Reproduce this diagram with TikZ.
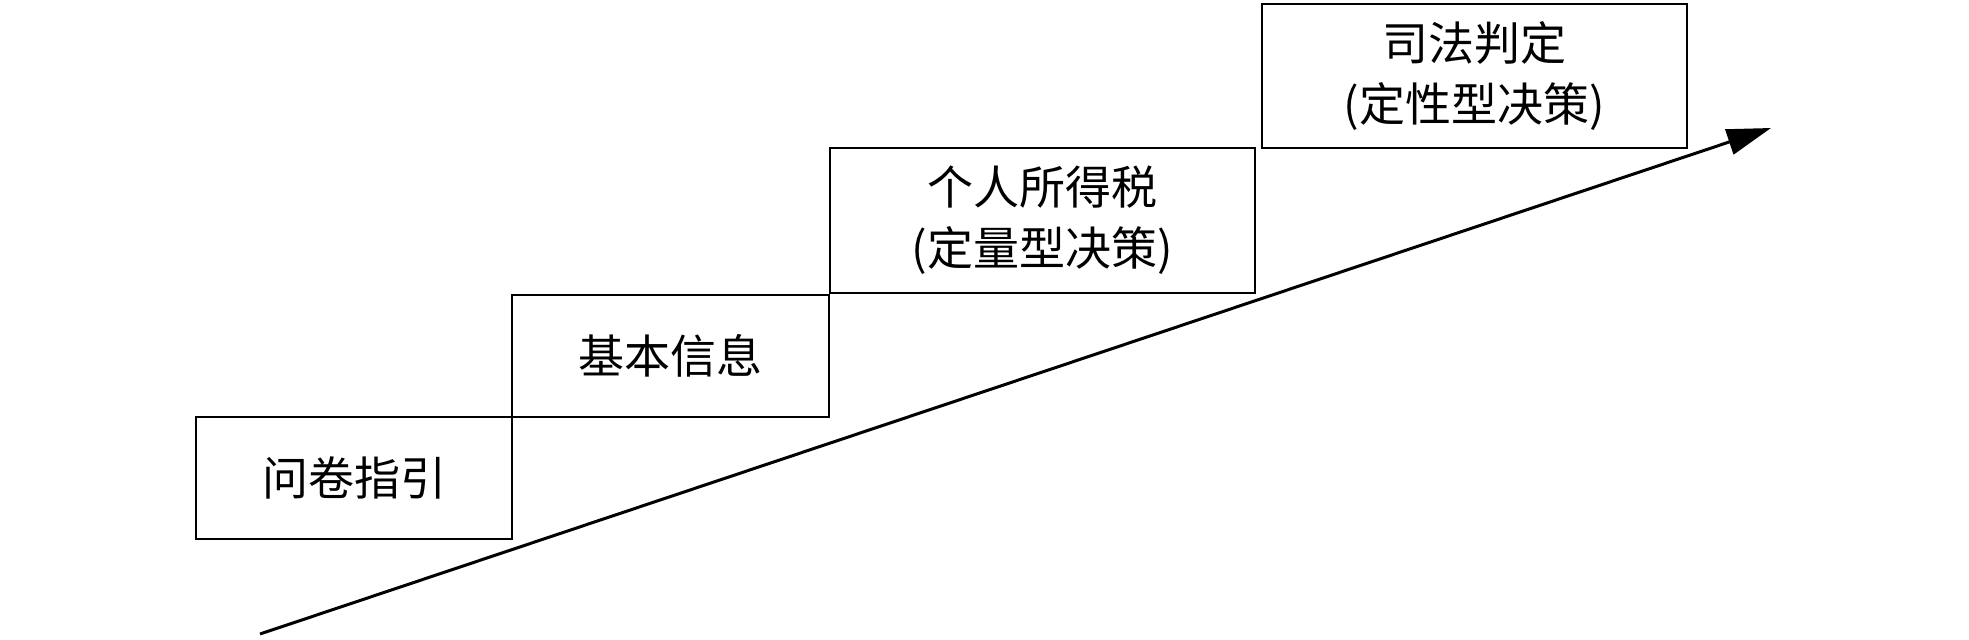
\documentclass[tikz,border=0pt]{standalone}
\usepackage{fontspec}
\newfontfamily\cjk{Noto Sans CJK SC}
\usetikzlibrary{arrows.meta}
\begin{document}
\begin{tikzpicture}[x=0.5pt,y=-0.5pt,
  stepbox/.style={draw, line width=1.4pt, inner sep=0pt, align=center,
    font=\cjk\fontsize{23pt}{30.5pt}\selectfont, text=black},
  trend/.style={line width=1.5pt, -{Triangle[length=22pt,width=13pt]}}]
\useasboundingbox (0,0) rectangle (1969,640);
\node[stepbox, minimum width=158pt, minimum height=61pt] (b1) at (354,478) {问卷指引};
\node[stepbox, minimum width=158.5pt, minimum height=61pt] (b2) at (670.5,356) {基本信息};
\node[stepbox, minimum width=212.5pt, minimum height=72.5pt] (b3) at (1042.5,220.5) {个人所得税\\(定量型决策)};
\node[stepbox, minimum width=212.5pt, minimum height=72pt] (b4) at (1474.5,76) {司法判定\\(定性型决策)};
\coordinate (s) at (260,634);
\coordinate (e) at (1771,128);
\draw[trend] (s) -- (e);
\end{tikzpicture}
\end{document}
